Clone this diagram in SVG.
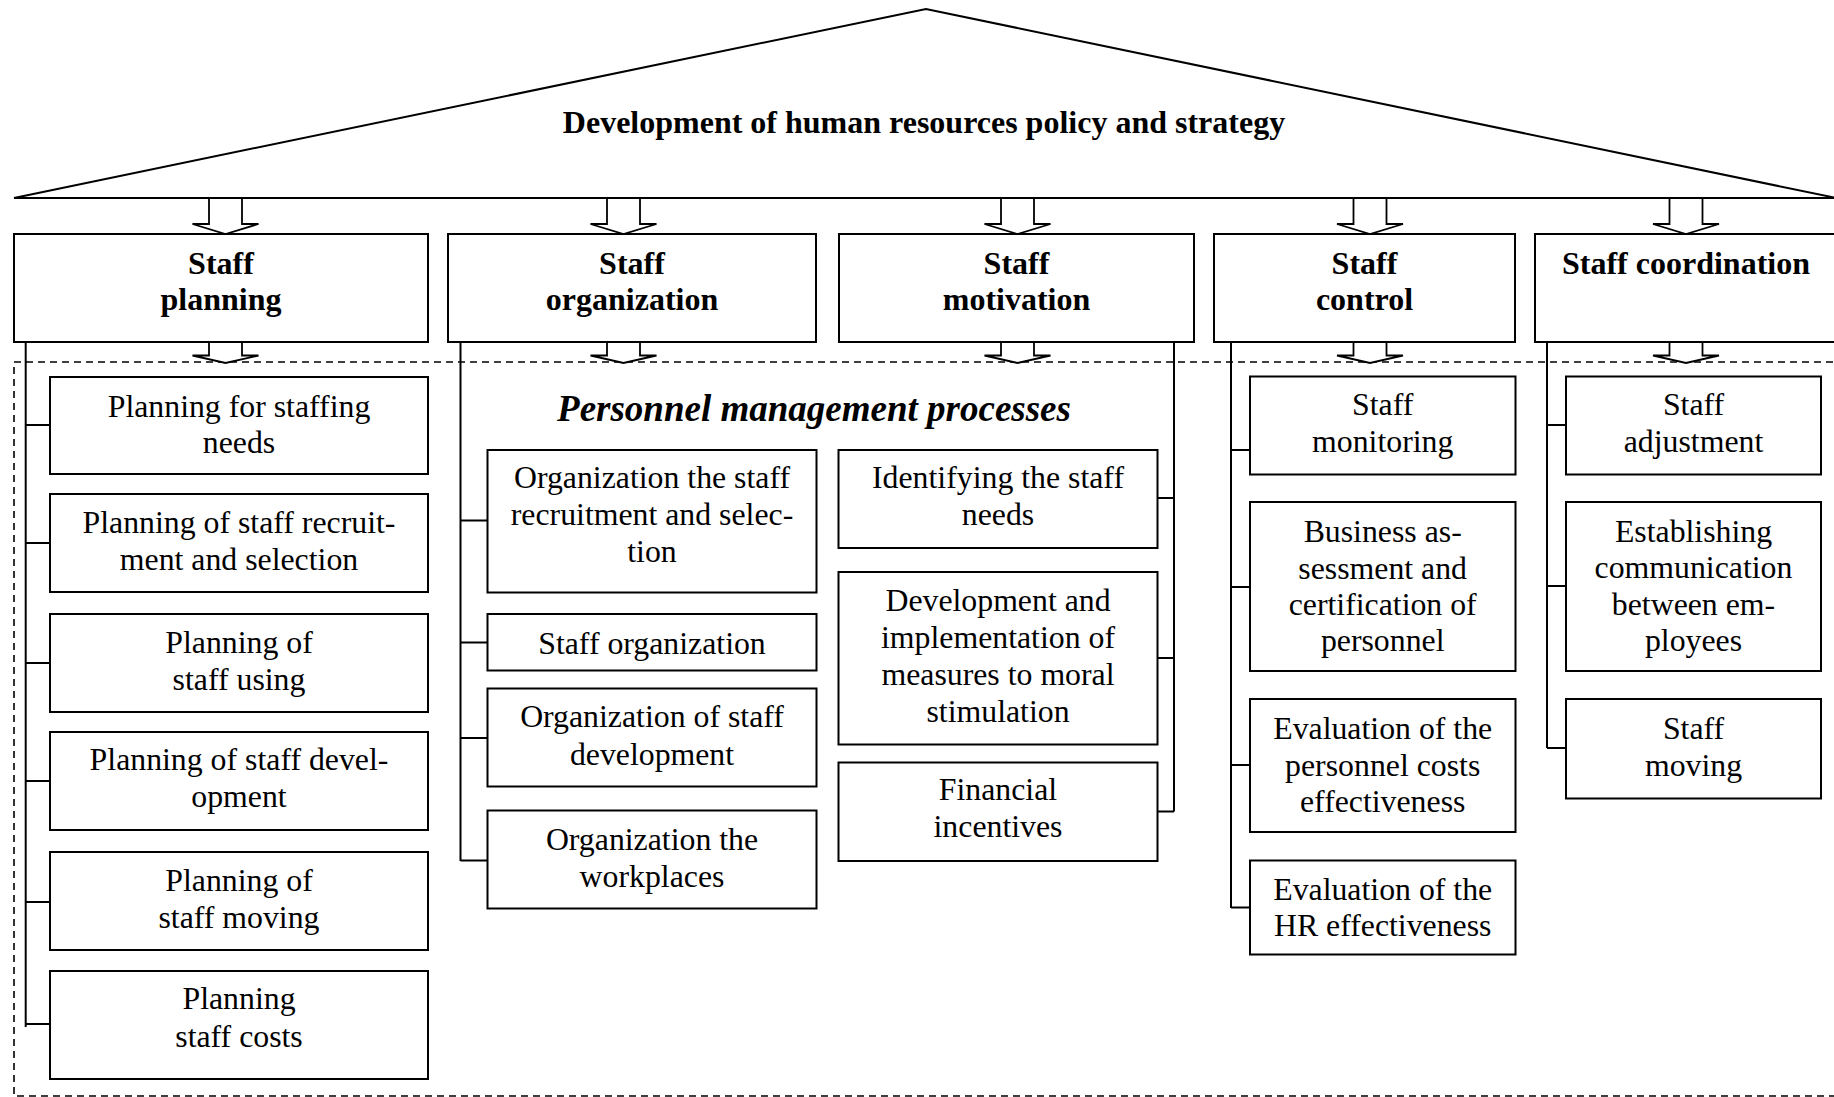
<svg xmlns="http://www.w3.org/2000/svg" width="1834" height="1097" viewBox="0 0 1834 1097">
  <style>
    .box { fill: #fff; stroke: #000; stroke-width: 2; }
    .arrow { fill: #fff; stroke: #000; stroke-width: 1.8; stroke-linejoin: miter; }
    .link { fill: none; stroke: #000; stroke-width: 2; }
    .frame { fill: none; stroke: #000; stroke-width: 1.6; stroke-dasharray: 7 5; }
    .roof { fill: #fff; stroke: #000; stroke-width: 2; stroke-linejoin: miter; }
    text { font-family: "Liberation Serif", "Times New Roman", serif; fill: #000; text-anchor: middle; }
    .title { font-size: 32px; font-weight: bold; }
    .head { font-size: 32px; font-weight: bold; }
    .section { font-size: 37px; font-weight: bold; font-style: italic; }
    .item { font-size: 31.8px; }
  </style>
  <defs>
    <!-- hollow block arrow, tip at (0,0); shaft 33 wide, head 66 wide -->
    <path id="arrowTop" d="M-16.5,-36 V-10 H-33 L0,0 L33,-10 H16.5 V-36 Z"/>
    <path id="arrowLow" d="M-16.5,-23 V-7.5 H-33 L0,0 L33,-7.5 H16.5 V-23 Z"/>
  </defs>

  <!-- roof: policy and strategy -->
  <g id="roof">
    <polygon class="roof" points="14,198 926,9 1836,198"/>
    <text class="title" x="924" y="133">Development of human resources policy and strategy</text>
  </g>

  <!-- dashed frame of the management processes -->
  <rect id="processes-frame" class="frame" x="14" y="362" width="1840" height="734"/>
  <text id="processes-label" class="section" x="814" y="421">Personnel management processes</text>

  <!-- connectors -->
  <g id="connectors">
    <!-- arrows from roof to functions -->
    <use href="#arrowTop" class="arrow" x="225.5" y="234"/>
    <use href="#arrowTop" class="arrow" x="623.5" y="234"/>
    <use href="#arrowTop" class="arrow" x="1017.5" y="234"/>
    <use href="#arrowTop" class="arrow" x="1370" y="234"/>
    <use href="#arrowTop" class="arrow" x="1686" y="234"/>
    <!-- arrows from functions into the process frame -->
    <use href="#arrowLow" class="arrow" x="225.5" y="363"/>
    <use href="#arrowLow" class="arrow" x="623.5" y="363"/>
    <use href="#arrowLow" class="arrow" x="1017.5" y="363"/>
    <use href="#arrowLow" class="arrow" x="1370" y="363"/>
    <use href="#arrowLow" class="arrow" x="1686" y="363"/>

    <!-- planning branch -->
    <path class="link" d="M25.7,342 V1027 M25.7,425 H50 M25.7,543 H50 M25.7,663 H50 M25.7,781 H50 M25.7,902 H50 M25.7,1024 H50"/>
    <!-- organization branch -->
    <path class="link" d="M460.5,342 V861 M460.5,520.5 H487.5 M460.5,642.5 H487.5 M460.5,738 H487.5 M460.5,860.5 H487.5"/>
    <!-- motivation branch -->
    <path class="link" d="M1174,342 V811.5 M1157.5,498 H1174 M1157.5,658 H1174 M1157.5,811.5 H1174"/>
    <!-- control branch -->
    <path class="link" d="M1231,342 V908 M1231,450 H1250 M1231,587 H1250 M1231,765 H1250 M1231,907.5 H1250"/>
    <!-- coordination branch -->
    <path class="link" d="M1547,342 V748 M1547,425 H1566 M1547,586 H1566 M1547,748 H1566"/>
  </g>

  <!-- management functions -->
  <g id="staff-planning">
    <rect class="box" x="14" y="234" width="414" height="108"/>
    <text class="head" x="221" y="274">Staff</text>
    <text class="head" x="221" y="310">planning</text>
  </g>
  <g id="staff-organization">
    <rect class="box" x="448" y="234" width="368" height="108"/>
    <text class="head" x="632" y="274">Staff</text>
    <text class="head" x="632" y="310">organization</text>
  </g>
  <g id="staff-motivation">
    <rect class="box" x="839" y="234" width="355" height="108"/>
    <text class="head" x="1016.5" y="274">Staff</text>
    <text class="head" x="1016.5" y="310">motivation</text>
  </g>
  <g id="staff-control">
    <rect class="box" x="1214" y="234" width="301" height="108"/>
    <text class="head" x="1364.5" y="274">Staff</text>
    <text class="head" x="1364.5" y="310">control</text>
  </g>
  <g id="staff-coordination">
    <rect class="box" x="1535" y="234" width="303" height="108"/>
    <text class="head" x="1686" y="274">Staff coordination</text>
  </g>

  <!-- planning processes -->
  <g id="planning-staffing-needs">
    <rect class="box" x="50" y="377" width="378" height="97"/>
    <text class="item" x="239" y="416.5">Planning for staffing</text>
    <text class="item" x="239" y="453">needs</text>
  </g>
  <g id="planning-recruitment">
    <rect class="box" x="50" y="494" width="378" height="98"/>
    <text class="item" x="239" y="533">Planning of staff recruit-</text>
    <text class="item" x="239" y="570">ment and selection</text>
  </g>
  <g id="planning-using">
    <rect class="box" x="50" y="614" width="378" height="98"/>
    <text class="item" x="239" y="653">Planning of</text>
    <text class="item" x="239" y="689.5">staff using</text>
  </g>
  <g id="planning-development">
    <rect class="box" x="50" y="732" width="378" height="98"/>
    <text class="item" x="239" y="770">Planning of staff devel-</text>
    <text class="item" x="239" y="807">opment</text>
  </g>
  <g id="planning-moving">
    <rect class="box" x="50" y="852" width="378" height="98"/>
    <text class="item" x="239" y="891">Planning of</text>
    <text class="item" x="239" y="928">staff moving</text>
  </g>
  <g id="planning-costs">
    <rect class="box" x="50" y="971" width="378" height="108"/>
    <text class="item" x="239" y="1008.5">Planning</text>
    <text class="item" x="239" y="1046.5">staff costs</text>
  </g>

  <!-- organization processes -->
  <g id="org-recruitment">
    <rect class="box" x="487.5" y="450" width="329" height="142.5"/>
    <text class="item" x="652" y="488">Organization the staff</text>
    <text class="item" x="652" y="525">recruitment and selec-</text>
    <text class="item" x="652" y="561.5">tion</text>
  </g>
  <g id="org-staff">
    <rect class="box" x="487.5" y="614" width="329" height="56.5"/>
    <text class="item" x="652" y="653.5">Staff organization</text>
  </g>
  <g id="org-development">
    <rect class="box" x="487.5" y="688.5" width="329" height="98"/>
    <text class="item" x="652" y="727">Organization of staff</text>
    <text class="item" x="652" y="764.5">development</text>
  </g>
  <g id="org-workplaces">
    <rect class="box" x="487.5" y="810.5" width="329" height="98"/>
    <text class="item" x="652" y="850">Organization the</text>
    <text class="item" x="652" y="887">workplaces</text>
  </g>

  <!-- motivation processes -->
  <g id="mot-needs">
    <rect class="box" x="838.5" y="450" width="319" height="98"/>
    <text class="item" x="998" y="488">Identifying the staff</text>
    <text class="item" x="998" y="525">needs</text>
  </g>
  <g id="mot-moral">
    <rect class="box" x="838.5" y="572" width="319" height="172.5"/>
    <text class="item" x="998" y="611">Development and</text>
    <text class="item" x="998" y="648">implementation of</text>
    <text class="item" x="998" y="685">measures to moral</text>
    <text class="item" x="998" y="721.5">stimulation</text>
  </g>
  <g id="mot-financial">
    <rect class="box" x="838.5" y="762.5" width="319" height="98.5"/>
    <text class="item" x="998" y="800">Financial</text>
    <text class="item" x="998" y="837">incentives</text>
  </g>

  <!-- control processes -->
  <g id="ctl-monitoring">
    <rect class="box" x="1250" y="376.5" width="265.5" height="98"/>
    <text class="item" x="1382.7" y="415">Staff</text>
    <text class="item" x="1382.7" y="452">monitoring</text>
  </g>
  <g id="ctl-assessment">
    <rect class="box" x="1250" y="502" width="265.5" height="169"/>
    <text class="item" x="1382.7" y="541.5">Business as-</text>
    <text class="item" x="1382.7" y="578.5">sessment and</text>
    <text class="item" x="1382.7" y="614.5">certification of</text>
    <text class="item" x="1382.7" y="651">personnel</text>
  </g>
  <g id="ctl-costs">
    <rect class="box" x="1250" y="699" width="265.5" height="133"/>
    <text class="item" x="1382.7" y="738.5">Evaluation of the</text>
    <text class="item" x="1382.7" y="775.5">personnel costs</text>
    <text class="item" x="1382.7" y="811.5">effectiveness</text>
  </g>
  <g id="ctl-hr">
    <rect class="box" x="1250" y="860.5" width="265.5" height="94"/>
    <text class="item" x="1382.7" y="900">Evaluation of the</text>
    <text class="item" x="1382.7" y="936">HR effectiveness</text>
  </g>

  <!-- coordination processes -->
  <g id="coord-adjustment">
    <rect class="box" x="1566" y="376.5" width="255" height="98"/>
    <text class="item" x="1693.5" y="415">Staff</text>
    <text class="item" x="1693.5" y="452">adjustment</text>
  </g>
  <g id="coord-communication">
    <rect class="box" x="1566" y="502" width="255" height="169"/>
    <text class="item" x="1693.5" y="541.5">Establishing</text>
    <text class="item" x="1693.5" y="578">communication</text>
    <text class="item" x="1693.5" y="614.5">between em-</text>
    <text class="item" x="1693.5" y="651">ployees</text>
  </g>
  <g id="coord-moving">
    <rect class="box" x="1566" y="699" width="255" height="99.5"/>
    <text class="item" x="1693.5" y="738.5">Staff</text>
    <text class="item" x="1693.5" y="775.5">moving</text>
  </g>
</svg>
